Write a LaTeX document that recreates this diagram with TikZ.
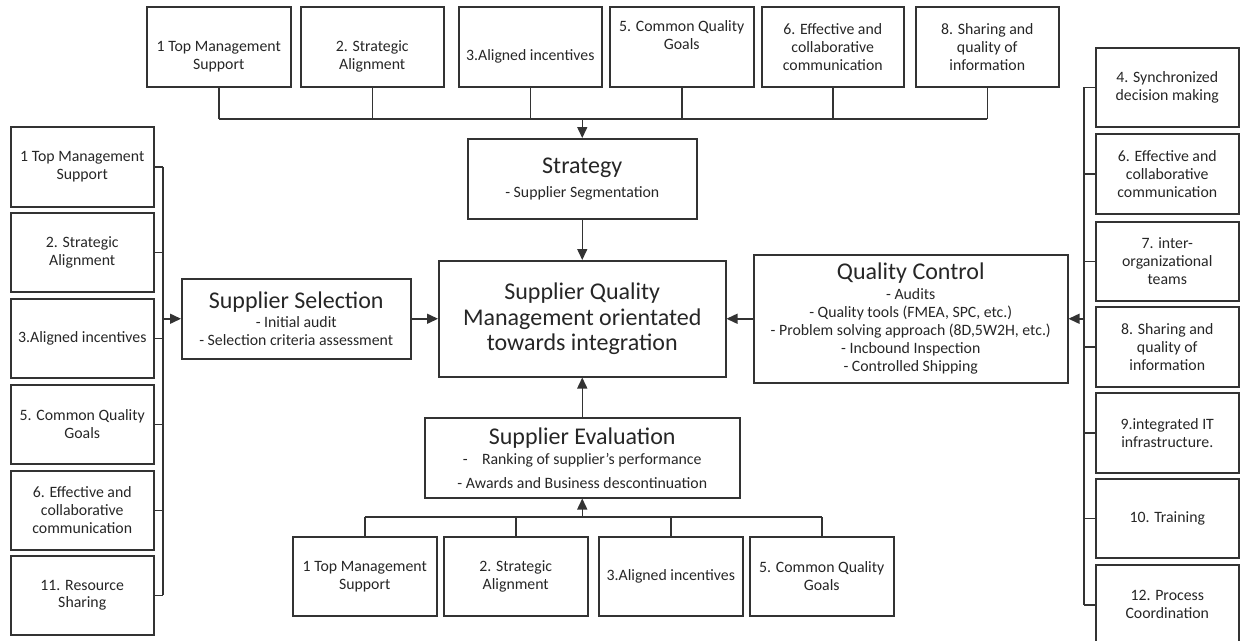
\documentclass[tikz,border=0pt]{standalone}
\usepackage{fontspec}
\setmainfont{Carlito}
\usetikzlibrary{arrows.meta}
\newcommand\lblfont{\fontsize{15.8}{17.9}\selectfont}
\newcommand\itemfont{\fontsize{15.8}{18}\selectfont}
\newcommand\ttlfont{\fontsize{24}{25.5}\selectfont}
\tikzset{
  box/.style={draw=black!80, line width=1.5pt, align=center, anchor=north west,
              inner sep=2pt, text=black!85, font=\lblfont},
  mainbox/.style={box, font=\itemfont},
  link/.style={draw=black!80, line width=1.5pt},
  arr/.style={link, -{Triangle[length=11pt,width=10pt]}},
}
% \bx{name}{left}{top}{width}{height}{text}
\newcommand\bx[6]{\node[box, minimum width=#4pt, minimum height=#5pt] (#1) at (#2,#3) {#6};}
\newcommand\mbx[6]{\node[mainbox, minimum width=#4pt, minimum height=#5pt] (#1) at (#2,#3) {#6};}
\begin{document}
\begin{tikzpicture}[x=1pt,y=-1pt]
\useasboundingbox (0,0) rectangle (1241,640);

% factor boxes feeding the strategy
\bx{t1}{146}{6}{144}{80}{\strut\\1 Top Management\\Support}
\bx{t2}{300}{6}{143}{80}{\strut\\2. Strategic\\Alignment}
\bx{t3}{458}{6}{143}{80}{\strut\\3.Aligned incentives}
\bx{t5}{609}{6}{144}{80}{5. Common Quality\\Goals\\\strut}
\bx{t6}{761}{6}{142}{80}{6. Effective and\\collaborative\\communication}
\bx{t8}{915}{6}{143}{80}{8. Sharing and\\quality of\\information}

% factor boxes feeding supplier selection
\bx{l1}{10}{126}{143}{80}{1 Top Management\\Support}
\bx{l2}{10}{212}{143}{79}{2. Strategic\\Alignment}
\bx{l3}{10}{298}{143}{79}{3.Aligned incentives}
\bx{l5}{10}{384}{143}{79}{5. Common Quality\\Goals}
\bx{l6}{10}{470}{143}{79}{6. Effective and\\collaborative\\communication}
\bx{l11}{10}{555}{143}{79}{11. Resource\\Sharing}

% factor boxes feeding quality control
\bx{r4}{1095}{47}{143}{79}{4. Synchronized\\decision making}
\bx{r6}{1095}{133}{143}{80}{6. Effective and\\collaborative\\communication}
\bx{r7}{1095}{221}{143}{79}{7. inter-\\organizational\\teams}
\bx{r8}{1095}{306}{143}{80}{8. Sharing and\\quality of\\information}
\bx{r9}{1095}{392}{143}{80}{9.integrated IT\\infrastructure.}
\bx{r10}{1095}{478}{143}{79}{10. Training}
\bx{r12}{1095}{564}{143}{80}{12. Process\\Coordination}

% factor boxes feeding supplier evaluation
\bx{b1}{292}{536}{144}{79}{1 Top Management\\Support}
\bx{b2}{443}{536}{144}{79}{2. Strategic\\Alignment}
\bx{b3}{598}{536}{144}{79}{3.Aligned incentives}
\bx{b5}{749}{536}{144}{79}{5. Common Quality\\Goals}

% process boxes
\mbx{strat}{467}{138}{229}{80}{{\ttlfont Strategy}\\[6pt]- Supplier Segmentation}
\mbx{sel}{181}{278}{229}{80}{{\ttlfont Supplier Selection}\\[1pt]- Initial audit\\- Selection criteria assessment}
\node[mainbox, font=\ttlfont, minimum width=287pt, minimum height=116pt] (cen) at (438,260)
  {Supplier Quality\\Management orientated\\towards integration};
\mbx{qc}{753}{254}{314}{128}{{\ttlfont Quality Control}\\[2pt]- Audits\\- Quality tools (FMEA, SPC, etc.)\\- Problem solving approach (8D,5W2H, etc.)\\- Incbound Inspection\\- Controlled Shipping}
\mbx{eval}{424}{417}{315}{80}{{\ttlfont Supplier Evaluation}\\[2pt]-\hspace{0.9em}Ranking of supplier’s performance\\[6pt]- Awards and Business descontinuation}

% top bus into the strategy
\coordinate (tb) at (0,119);
\foreach \n in {t1,t2,t3,t5,t6,t8} \draw[link] (\n.south) -- (\n.south |- tb);
\draw[link] (t1.south |- tb) -- (t8.south |- tb);
\draw[arr] (strat.north |- tb) -- (strat.north);
\draw[arr] (strat.south) -- (strat.south |- cen.north);

% left bus into supplier selection
\coordinate (lb) at (163,0);
\foreach \n in {l1,l2,l3,l5,l6,l11} \draw[link] (\n.east) -- (\n.east -| lb);
\draw[link] (l1.east -| lb) -- (l11.east -| lb);
\draw[arr] (sel.west -| lb) -- (sel.west);
\draw[arr] (sel.east) -- (sel.east -| cen.west);

% right bus into quality control
\coordinate (rb) at (1084,0);
\foreach \n in {r4,r6,r7,r8,r9,r10,r12} \draw[link] (\n.west) -- (\n.west -| rb);
\draw[link] (r4.west -| rb) -- (r12.west -| rb);
\draw[arr] (qc.east -| rb) -- (qc.east);
\draw[arr] (qc.west) -- (qc.west -| cen.east);

% bottom bus into supplier evaluation
\coordinate (bb) at (0,517);
\foreach \n in {b1,b2,b3,b5} \draw[link] (\n.north) -- (\n.north |- bb);
\draw[link] (b1.north |- bb) -- (b5.north |- bb);
\draw[arr] (eval.south |- bb) -- (eval.south);
\draw[arr] (eval.north) -- (eval.north |- cen.south);
\end{tikzpicture}
\end{document}
